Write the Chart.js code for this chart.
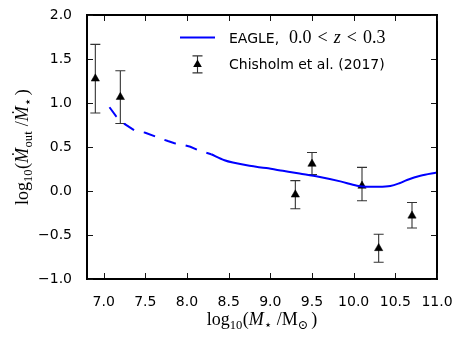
<!DOCTYPE html>
<html><head><meta charset="utf-8">
<script src="https://cdn.jsdelivr.net/npm/chart.js@4.4.0/dist/chart.umd.min.js"></script>
<style>html,body{margin:0;padding:0;background:#fff}</style>
</head><body>
<canvas id="c" width="460" height="345"></canvas>
<script>
// EAGLE model line (dashed part at low mass, solid above)
const eagleDashedX = [7.07, 7.15, 7.25, 7.37, 7.50, 7.64, 7.77, 7.85, 7.92, 8.04, 8.15, 8.29];
const eagleDashedY = [0.955, 0.85, 0.765, 0.69, 0.665, 0.615, 0.57, 0.545, 0.535, 0.505, 0.46, 0.42];
const eagleSolidX = [8.29, 8.45, 8.55, 8.75, 8.95, 9.15, 9.35, 9.58, 9.84, 10.04, 10.15, 10.30, 10.44, 10.55, 10.64, 10.80, 11.0];
const eagleSolidY = [0.42, 0.352, 0.325, 0.288, 0.262, 0.231, 0.20, 0.164, 0.111, 0.062, 0.05, 0.05, 0.058, 0.09, 0.126, 0.175, 0.212];
// Chisholm et al. (2017)
const obsX = [6.9, 7.2, 9.3, 9.5, 10.1, 10.3, 10.7];
const obsY = [1.28, 1.07, -0.04, 0.31, 0.06, -0.65, -0.28];
const obsLow = [0.89, 0.77, -0.20, 0.19, -0.11, -0.81, -0.42];
const obsHigh = [1.67, 1.37, 0.12, 0.44, 0.27, -0.49, -0.13];
// ticks
const xTicks = [7.0, 7.5, 8.0, 8.5, 9.0, 9.5, 10.0, 10.5, 11.0];
const yTicks = [-1.0, -0.5, 0.0, 0.5, 1.0, 1.5, 2.0];

const fmt = v => (v < 0 ? '\u2212' : '') + Math.abs(v).toFixed(1);
const SERIF = '"Liberation Serif", "DejaVu Serif", serif';
const SANS = '"DejaVu Sans", sans-serif';

function richWidth(ctx, parts) {
  let w = 0;
  for (const p of parts) { ctx.font = p.f; w += ctx.measureText(p.t).width + (p.dx || 0); }
  return w;
}
function drawRich(ctx, parts, x, y) {
  let cx = x;
  ctx.textBaseline = 'alphabetic';
  ctx.textAlign = 'left';
  for (const p of parts) {
    ctx.font = p.f;
    cx += (p.dx || 0);
    ctx.fillText(p.t, cx, y + (p.dy || 0));
    cx += ctx.measureText(p.t).width;
  }
}
const R = s => s + 'px ' + SERIF;
const I = s => 'italic ' + s + 'px ' + SERIF;
const B = 18, S = 12.6;

const yTitle = [
  {t:'log', f:R(B)}, {t:'10', f:R(S), dy:4}, {t:'(', f:R(B), dx:0.5},
  {t:'\u1E40', f:I(B)}, {t:'out', f:R(S), dy:4, dx:0.5}, {t:'/', f:R(B), dx:5},
  {t:'\u1E40', f:I(B)}, {t:'\u22C6', f:R(S), dy:4}, {t:')', f:R(B), dx:3}
];
const xTitle = [
  {t:'log', f:R(B)}, {t:'10', f:R(S), dy:4}, {t:'(', f:R(B), dx:0.5},
  {t:'M', f:I(B)}, {t:'\u22C6', f:R(S), dy:4}, {t:'/', f:R(B), dx:5},
  {t:'M', f:R(B)}, {t:'\u2299', f:R(S), dy:4}, {t:')', f:R(B), dx:3}
];
const legMath = [
  {t:'0.0', f:R(B)}, {t:'<', f:R(B), dx:6}, {t:'z', f:I(B), dx:6}, {t:'<', f:R(B), dx:6}, {t:'0.3', f:R(B), dx:6}
];

function drawTri(ctx, x, y, r) {
  ctx.beginPath();
  ctx.moveTo(x, y - r);
  ctx.lineTo(x + r * 0.866, y + r * 0.5);
  ctx.lineTo(x - r * 0.866, y + r * 0.5);
  ctx.closePath();
  ctx.fill();
}

const deco = {
  id: 'deco',
  beforeDatasetDraw(chart, args) {
    if (args.index !== 2) return;
    const ctx = chart.ctx, xs = chart.scales.x, ys = chart.scales.y;
    ctx.save();
    ctx.setLineDash([]);
    ctx.strokeStyle = '#333';
    ctx.lineWidth = 1.1;
    for (let i = 0; i < obsX.length; i++) {
      const px = xs.getPixelForValue(obsX[i]);
      const lo = ys.getPixelForValue(obsLow[i]);
      const hi = ys.getPixelForValue(obsHigh[i]);
      ctx.beginPath();
      ctx.moveTo(px, lo); ctx.lineTo(px, hi);
      ctx.moveTo(px - 5, lo); ctx.lineTo(px + 5, lo);
      ctx.moveTo(px - 5, hi); ctx.lineTo(px + 5, hi);
      ctx.stroke();
    }
    ctx.restore();
  },
  afterDraw(chart) {
    const ctx = chart.ctx, a = chart.chartArea, xs = chart.scales.x, ys = chart.scales.y;
    ctx.save();
    // frame: crisp black
    ctx.fillStyle = 'rgb(0,0,0)';
    const L = Math.round(a.left) - 1, T = Math.round(a.top) - 1;
    const Rr = Math.round(a.right) - 1, Bt = Math.round(a.bottom) - 1;
    ctx.fillRect(L, T, Rr - L + 2, 2);
    ctx.fillRect(L, Bt, Rr - L + 2, 2);
    ctx.fillRect(L, T, 2, Bt - T + 2);
    ctx.fillRect(Rr, T, 2, Bt - T + 2);
    // inward ticks on all four sides
    ctx.fillStyle = 'rgb(20,20,20)';
    for (const v of xTicks) {
      const px = Math.round(xs.getPixelForValue(v));
      ctx.fillRect(px, Bt - 5, 1, 5);
      ctx.fillRect(px, T + 2, 1, 5);
    }
    for (const v of yTicks) {
      const py = Math.round(ys.getPixelForValue(v));
      ctx.fillRect(L + 2, py, 5, 1);
      ctx.fillRect(Rr - 5, py, 5, 1);
    }

    // axis titles
    ctx.fillStyle = '#000';
    const xw = richWidth(ctx, xTitle);
    drawRich(ctx, xTitle, (a.left + a.right) / 2 - xw / 2, 325);
    ctx.save();
    ctx.translate(28, (a.top + a.bottom) / 2);
    ctx.rotate(-Math.PI / 2);
    const yw = richWidth(ctx, yTitle);
    drawRich(ctx, yTitle, -yw / 2, 0);
    ctx.restore();

    // legend
    const lx0 = a.right - 257, lx1 = a.right - 222, lcx = (lx0 + lx1) / 2;
    ctx.strokeStyle = '#0000ff';
    ctx.lineWidth = 2;
    ctx.beginPath();
    ctx.moveTo(lx0, a.top + 22); ctx.lineTo(lx1, a.top + 22);
    ctx.stroke();
    ctx.fillStyle = '#000';
    ctx.font = '14px ' + SANS;
    ctx.textBaseline = 'alphabetic';
    ctx.textAlign = 'left';
    const tx = a.right - 208;
    ctx.fillText('EAGLE,', tx, a.top + 28);
    const ew = ctx.measureText('EAGLE,').width;
    drawRich(ctx, legMath, tx + ew + 10, a.top + 28);
    ctx.font = '14px ' + SANS;
    ctx.fillText('Chisholm et al. (2017)', tx, a.top + 54);
    const my = a.top + 49;
    ctx.strokeStyle = '#333';
    ctx.lineWidth = 1.1;
    ctx.beginPath();
    ctx.moveTo(lcx, my - 8.5); ctx.lineTo(lcx, my + 8.5);
    ctx.moveTo(lcx - 5, my - 8.5); ctx.lineTo(lcx + 5, my - 8.5);
    ctx.moveTo(lcx - 5, my + 8.5); ctx.lineTo(lcx + 5, my + 8.5);
    ctx.stroke();
    ctx.fillStyle = '#000';
    drawTri(ctx, lcx, my, 5);
    ctx.restore();
  }
};

const toPts = (xs, ys) => xs.map((x, i) => ({x, y: ys[i]}));

new Chart(document.getElementById('c'), {
  type: 'scatter',
  data: {
    datasets: [
      { label: 'EAGLE dashed', data: toPts(eagleDashedX, eagleDashedY), showLine: true,
        borderColor: '#0000ff', borderWidth: 2, borderDash: [12, 10], pointRadius: 0, tension: 0, fill: false },
      { label: 'EAGLE, 0.0 < z < 0.3', data: toPts(eagleSolidX, eagleSolidY), showLine: true,
        borderColor: '#0000ff', borderWidth: 2, pointRadius: 0, cubicInterpolationMode: 'monotone', fill: false },
      { label: 'Chisholm et al. (2017)', data: toPts(obsX, obsY), showLine: false,
        pointStyle: 'triangle', pointRadius: 4.8, backgroundColor: '#000', borderColor: '#000', borderWidth: 0.5 }
    ]
  },
  options: {
    responsive: false,
    devicePixelRatio: 1,
    animation: false,
    layout: { padding: { left: 0, right: 23, top: 14, bottom: 0 } },
    plugins: { legend: { display: false }, tooltip: { enabled: false } },
    scales: {
      x: {
        type: 'linear', min: 6.8, max: 11.0,
        afterBuildTicks: s => { s.ticks = xTicks.map(v => ({value: v})); },
        afterFit: s => { s.height = 66; },
        ticks: { callback: v => fmt(v), font: { family: SANS, size: 14 }, color: '#000', padding: 7, maxRotation: 0, autoSkip: false },
        grid: { display: false }
      },
      y: {
        type: 'linear', min: -1.0, max: 2.0,
        afterBuildTicks: s => { s.ticks = yTicks.map(v => ({value: v})); },
        afterFit: s => { s.width = 87; },
        ticks: { callback: v => fmt(v), font: { family: SANS, size: 14 }, color: '#000', padding: 7, autoSkip: false },
        grid: { display: false }
      }
    }
  },
  plugins: [deco]
});
</script>
</body></html>
